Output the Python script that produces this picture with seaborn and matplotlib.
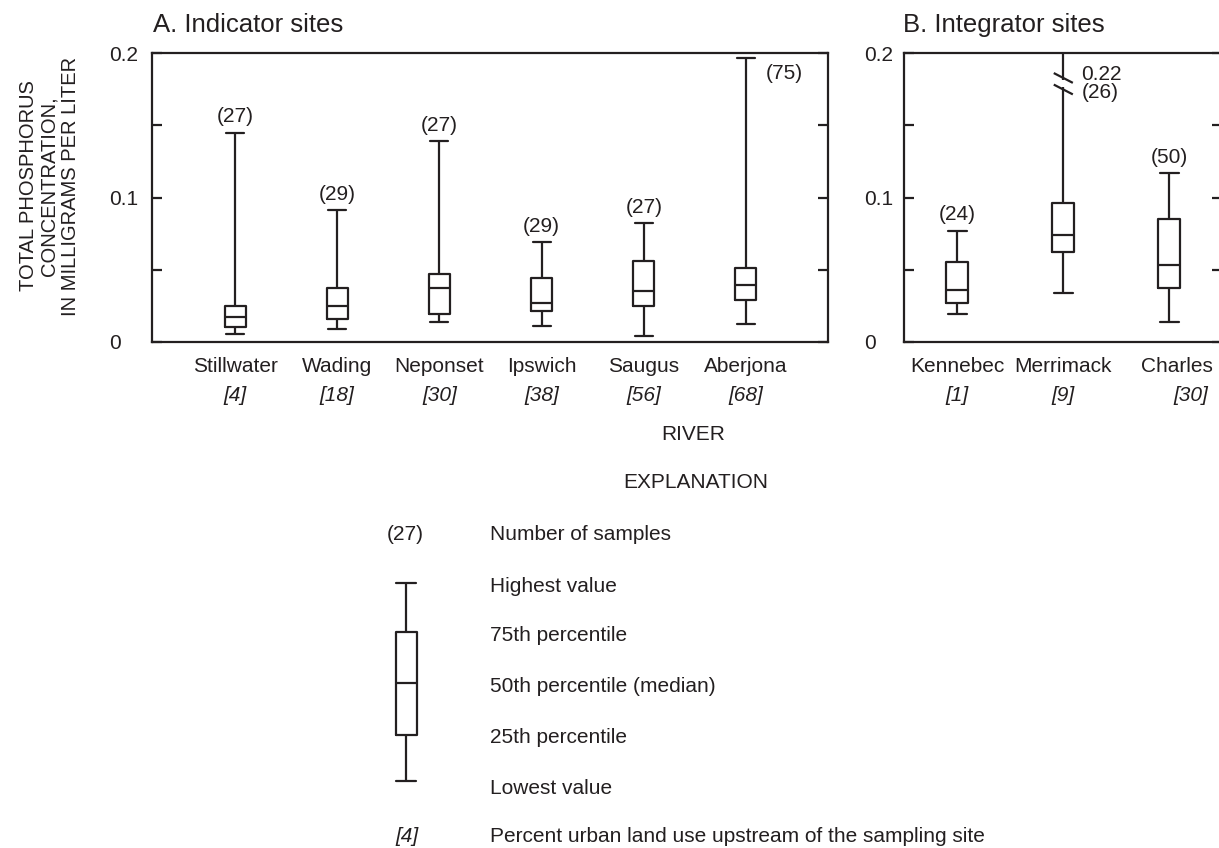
import numpy as np
import pandas as pd
import matplotlib
matplotlib.use("Agg")
import matplotlib.pyplot as plt
import matplotlib.transforms as mtransforms
import seaborn as sns

# ---------------- data ----------------
rivers_a = ["Stillwater", "Wading", "Neponset", "Ipswich", "Saugus", "Aberjona"]
urban_a = [4, 18, 30, 38, 56, 68]
n_a = [27, 29, 27, 29, 27, 75]
low_a = [0.005, 0.009, 0.014, 0.011, 0.004, 0.012]
q1_a = [0.010, 0.016, 0.019, 0.021, 0.025, 0.029]
med_a = [0.017, 0.025, 0.037, 0.027, 0.035, 0.039]
q3_a = [0.025, 0.037, 0.047, 0.044, 0.056, 0.051]
high_a = [0.145, 0.091, 0.139, 0.069, 0.082, 0.197]

rivers_b = ["Kennebec", "Merrimack", "Charles"]
urban_b = [1, 9, 30]
n_b = [24, 26, 50]
low_b = [0.019, 0.034, 0.014]
q1_b = [0.027, 0.062, 0.037]
med_b = [0.036, 0.074, 0.053]
q3_b = [0.055, 0.096, 0.085]
high_b = [0.077, 0.22, 0.117]

yticks = [0, 0.05, 0.1, 0.15, 0.2]
ytick_labels = ["0", "", "0.1", "", "0.2"]

explanation_example = [0, 46, 98, 149, 198]
explanation_rows = ["Highest value", "75th percentile", "50th percentile (median)",
                    "25th percentile", "Lowest value"]

# ---------------- style ----------------
W, H = 1219, 848
INK = "#231f20"
sns.set_style("white")
plt.rcParams["font.family"] = ["Liberation Sans", "DejaVu Sans"]
plt.rcParams["text.color"] = INK
FS = 15

fig = plt.figure(figsize=(W / 100, H / 100), dpi=100)


def fx(px):
    return px / W


def fy(py):
    return 1 - py / H


def make_df(rivers, low, q1, med, q3, high):
    rows = []
    for r, a, b, c, d, e in zip(rivers, low, q1, med, q3, high):
        for v in (a, b, c, d, e):
            rows.append({"river": r, "value": v})
    return pd.DataFrame(rows)


df_a = make_df(rivers_a, low_a, q1_a, med_a, q3_a, high_a)
df_b = make_df(rivers_b, low_b, q1_b, med_b, q3_b, high_b)

top_px, bot_px = 53.3, 341.7
ax_a = fig.add_axes([fx(152.3), fy(bot_px), (827.7 - 152.3) / W, (bot_px - top_px) / H])
ax_b = fig.add_axes([fx(904.3), fy(bot_px), 318 / W, (bot_px - top_px) / H])

box_kw = dict(x="river", y="value", whis=(0, 100), width=0.205, fill=False,
              color=INK, linewidth=1.6, showfliers=False, capwidths=0.175)
sns.boxplot(data=df_a, order=rivers_a, ax=ax_a, **box_kw)
sns.boxplot(data=df_b, order=rivers_b, ax=ax_b, **box_kw)

for ax, xl, pad in ((ax_a, (-0.81, 5.8), 31), (ax_b, (-0.5, 2.5), 29)):
    ax.set_xlim(*xl)
    ax.set_ylim(0, 0.2)
    ax.set_yticks(yticks, ytick_labels)
    ax.set_xlabel("")
    ax.set_ylabel("")
    for s in ax.spines.values():
        s.set_color(INK)
        s.set_linewidth(1.6)
        s.set_visible(True)
    ax.tick_params(axis="y", which="both", direction="in", left=True, right=True,
                   length=7, width=1.6, color=INK, labelsize=FS, pad=pad,
                   labelcolor=INK)
    ax.tick_params(axis="x", bottom=False, labelbottom=False)
    plt.setp(ax.get_yticklabels(), ha="left")

# sample counts
for i, (n, hi) in enumerate(zip(n_a, high_a)):
    if rivers_a[i] == "Aberjona":
        ax_a.annotate(f"({n})", xy=(i, hi), xytext=(14.5, -15.5), textcoords="offset points",
                      ha="left", va="baseline", fontsize=FS)
    else:
        ax_a.annotate(f"({n})", xy=(i, hi), xytext=(0, 7.5), textcoords="offset points",
                      ha="center", va="baseline", fontsize=FS)
for i, (n, hi) in enumerate(zip(n_b, high_b)):
    if rivers_b[i] == "Merrimack":
        ax_b.annotate(f"{hi:.2f}", xy=(i, 0.2), xytext=(13, -19), textcoords="offset points",
                      ha="left", va="baseline", fontsize=FS)
        ax_b.annotate(f"({n})", xy=(i, 0.2), xytext=(13, -32.5), textcoords="offset points",
                      ha="left", va="baseline", fontsize=FS)
        # axis-break marks on the whisker
        ax_b.plot([i, i], [0.1766, 0.1812], color="white", lw=4, zorder=5,
                  solid_capstyle="butt")
        for yc in (0.1829, 0.1749):
            ax_b.plot([i - 0.09, i + 0.09], [yc + 0.0034, yc - 0.0034], color=INK,
                      lw=1.6, zorder=6, solid_capstyle="butt")
    else:
        ax_b.annotate(f"({n})", xy=(i, hi), xytext=(0, 7.5), textcoords="offset points",
                      ha="center", va="baseline", fontsize=FS)

# category labels with urban-land percentages
for ax, rivers, urban, dx_name, dx_pct in (
        (ax_a, rivers_a, urban_a, [0] * 6, [0] * 6),
        (ax_b, rivers_b, urban_b, [0, 0, 0.07], [0, 0, 0.2])):
    tr = mtransforms.blended_transform_factory(ax.transData, fig.transFigure)
    for i, (r, u) in enumerate(zip(rivers, urban)):
        ax.text(i + dx_name[i], fy(372.5), r, transform=tr, ha="center", va="baseline",
                fontsize=FS, clip_on=False)
        ax.text(i + dx_pct[i], fy(401), f"[{u}]", transform=tr, ha="center", va="baseline",
                fontsize=FS, style="italic", clip_on=False)

# titles
fig.text(fx(152.7), fy(31.7), "A. Indicator sites", fontsize=18.5, ha="left", va="baseline")
fig.text(fx(903), fy(31.7), "B. Integrator sites", fontsize=18.5, ha="left", va="baseline")

# y axis label (three lines)
for xpx, line in ((29, "TOTAL PHOSPHORUS"), (49.5, "CONCENTRATION,"), (70, "IN MILLIGRAMS PER LITER")):
    fig.text(fx(xpx), fy(186), line, rotation=90, ha="center", va="center", fontsize=14.5)

fig.text(fx(693), fy(440), "RIVER", ha="center", va="baseline", fontsize=FS)
fig.text(fx(696), fy(488), "EXPLANATION", ha="center", va="baseline", fontsize=FS)

# ---------------- explanation ----------------
ax_e = fig.add_axes([fx(376), fy(791), 60 / W, 218 / H])
sns.boxplot(y=explanation_example, whis=(0, 100), width=0.35, fill=False, color=INK,
            linewidth=1.6, capwidths=0.33, showfliers=False, ax=ax_e)
ax_e.set_xlim(-0.5, 0.5)
ax_e.set_ylim(-10, 208)
ax_e.axis("off")

fig.text(fx(405), fy(540), "(27)", ha="center", va="baseline", fontsize=FS)
fig.text(fx(490), fy(540), "Number of samples", ha="left", va="baseline", fontsize=FS)
for ypx, label in zip((592, 641, 692, 743, 794), explanation_rows):
    fig.text(fx(490), fy(ypx), label, ha="left", va="baseline", fontsize=FS)
fig.text(fx(407), fy(842), "[4]", ha="center", va="baseline", fontsize=FS, style="italic")
fig.text(fx(490), fy(842), "Percent urban land use upstream of the sampling site",
         ha="left", va="baseline", fontsize=FS)

fig.savefig("out.png", dpi=100)
